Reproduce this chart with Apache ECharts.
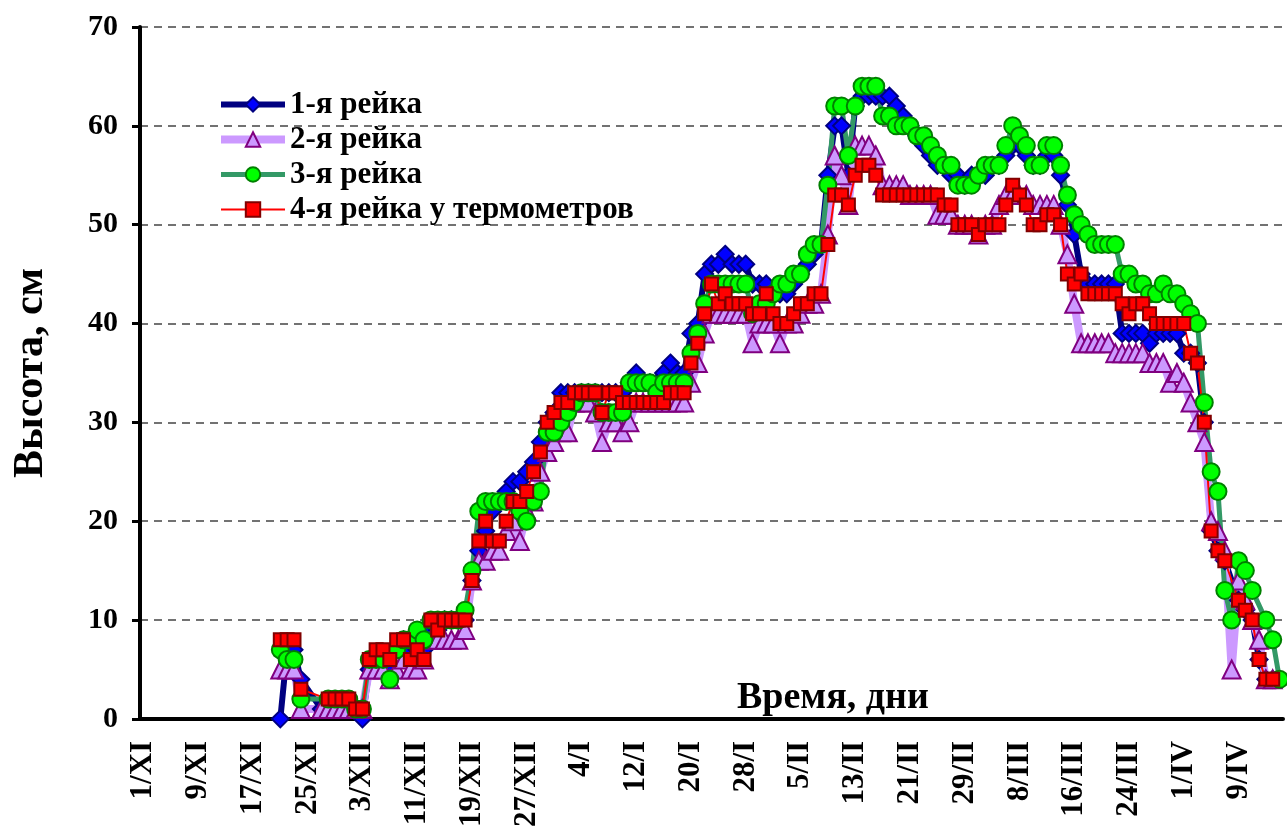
<!DOCTYPE html>
<html>
<head>
<meta charset="utf-8">
<script src="https://cdn.jsdelivr.net/npm/echarts@6/dist/echarts.min.js"></script>
<style>
html, body { margin: 0; padding: 0; background: #fff; }
#chart { width: 1287px; height: 830px; }
</style>
</head>
<body>
<div id="chart"></div>
<script>
// days from 1/XI, labels like "1/XI"
var monthNames = ['XI', 'XII', 'I', 'II', 'III', 'IV'];
var monthDays = [30, 31, 31, 29, 31, 15];
var days = [];
monthNames.forEach(function (m, i) {
    for (var d = 1; d <= monthDays[i]; d++) days.push(d + '/' + m);
});

var yTicks = [0, 10, 20, 30, 40, 50, 60, 70];

// series values start at day index 20 (21/XI)
var firstDay = 20;
var rail1 = [0, 7, 7, 4, null, null, 1, 1, 1, 1, 1, 1, 0,
    5, 6, 6, 5, 7, 8, 7, 7, 7, 9, 9, 10, 10, 10, 10,
    14, 17, 19, 21, 22, 23, 24, 24, 25, 26, 28, 30, 31, 33, 33, 33, 33, 33, 33, 33, 33, 33, 33,
    34, 35, 34, 34, 34, 35, 36, 35, 35, 39, 40, 45, 46, 46, 47, 46, 46, 46, 44, 44, 44, 43, 43, 43, 44, 45, 46, 47, 48,
    55, 60, 60, 55, 62, 63, 63, 63, 63, 63, 62, 61, 60, 59, 58, 57, 56, 56, 55, 55, 54, 55, 55, 55, 56, 56,
    57, 58, 58, 57, 56, 56, 57, 57, 55, 52, 49, 45, 44, 44, 44, 44, 44, 39, 39, 39, 39, 38, 39, 39, 39, 39, 37, 37, 36,
    30, 19, 17, 16, null, 12, 11, 10, 6, 4, 4, null];
var rail2 = [5, 5, 5, 1, null, null, 1, 1, 1, 1, 1, 1, 1,
    5, 5, 5, 4, 5, 6, 5, 5, 6, 8, 8, 8, 8, 8, 9,
    14, 16, 16, 17, 17, 19, 20, 18, 21, 22, 25, 27, 28, 29, 29, 32, 32, 32, 31, 28, 30, 30, 29,
    30, 32, 32, 32, 32, 32, 32, 32, 32, 34, 36, 39, 41, 41, 41, 41, 41, 41, 38, 40, 40, 40, 38, 40, 40, 41, 42, 42, 43,
    49, 57, 55, 52, 58, 58, 58, 57, 54, 54, 54, 54, 53, 53, 53, 53, 51, 51, 51, 50, 50, 50, 49, 50, 50, 52,
    53, 53, 53, 53, 52, 52, 52, 52, 50, 47, 42, 38, 38, 38, 38, 38, 37, 37, 37, 37, 37, 36, 36, 36, 34, 35, 34, 32, 30,
    28, 20, 19, 17, 5, 14, 12, 10, 8, 4, 4, null];
var rail3 = [7, 6, 6, 2, null, null, null, 2, 2, 2, 2, 1, 1,
    6, 6, 6, 4, 7, 8, 8, 9, 8, 10, 10, 10, 10, 10, 11,
    15, 21, 22, 22, 22, 22, 22, 21, 20, 22, 23, 29, 29, 30, 31, 32, 33, 33, 33, 31, 31, 31, 31,
    34, 34, 34, 34, 33, 34, 34, 34, 34, 37, 39, 42, 44, 44, 44, 44, 44, 44, 41, 42, 42, 43, 44, 44, 45, 45, 47, 48, 48,
    54, 62, 62, 57, 62, 64, 64, 64, 61, 61, 60, 60, 60, 59, 59, 58, 57, 56, 56, 54, 54, 54, 55, 56, 56, 56,
    58, 60, 59, 58, 56, 56, 58, 58, 56, 53, 51, 50, 49, 48, 48, 48, 48, 45, 45, 44, 44, 43, 43, 44, 43, 43, 42, 41, 40,
    32, 25, 23, 13, 10, 16, 15, 13, null, 10, 8, 4];
var rail4 = [8, 8, 8, 3, null, null, null, 2, 2, 2, 2, 1, 1,
    6, 7, 7, 6, 8, 8, 6, 7, 6, 10, 9, 10, 10, 10, 10,
    14, 18, 20, 18, 18, 20, 22, 22, 23, 25, 27, 30, 31, 32, 32, 33, 33, 33, 33, 31, 33, 33, 32,
    32, 32, 32, 32, 32, 32, 33, 33, 33, 36, 38, 41, 44, 42, 43, 42, 42, 42, 41, 41, 43, 41, 40, 40, 41, 42, 42, 43, 43,
    48, 53, 53, 52, 55, 56, 56, 55, 53, 53, 53, 53, 53, 53, 53, 53, 53, 52, 52, 50, 50, 50, 49, 50, 50, 50,
    52, 54, 53, 52, 50, 50, 51, 51, 50, 45, 44, 45, 43, 43, 43, 43, 43, 42, 41, 42, 42, 41, 40, 40, 40, 40, 40, 37, 36,
    30, 19, 17, 16, null, 12, 11, 10, 6, 4, 4, null];

function pad(a) {
    return new Array(firstDay).fill(null).concat(a);
}

var font = 'Liberation Serif';

function rail(name, data, lineColor, lineWidth, symbol, size, fill, border) {
    return {
        name: name,
        type: 'line',
        data: pad(data),
        connectNulls: true,
        symbol: symbol,
        symbolSize: size,
        showAllSymbol: true,
        lineStyle: { color: lineColor, width: lineWidth },
        itemStyle: { color: fill, borderColor: border, borderWidth: 2 }
    };
}

var myChart = echarts.init(document.getElementById('chart'));
var option = {
    animation: false,
    backgroundColor: '#fff',
    grid: { left: 140, right: 4, top: 27, bottom: 110 },
    legend: {
        orient: 'vertical',
        left: 212,
        top: 84,
        itemWidth: 64,
        itemHeight: 18,
        itemGap: 4,
        lineStyle: { width: 'inherit' },
        textStyle: { fontFamily: font, fontWeight: 'bold', fontSize: 31, color: '#000' }
    },
    graphic: [{
        type: 'text',
        left: 737,
        top: 679,
        style: { text: 'Время, дни', font: 'bold 38px "Liberation Serif"', fill: '#000' }
    }],
    xAxis: {
        type: 'category',
        data: days,
        boundaryGap: true,
        axisLine: { lineStyle: { color: '#000', width: 4 } },
        axisTick: { interval: 0, length: 8, lineStyle: { color: '#000', width: 2 } },
        axisLabel: {
            interval: 7, rotate: 90, margin: 22,
            fontFamily: font, fontWeight: 'bold', fontSize: 31, color: '#000'
        },
        splitLine: { show: false }
    },
    yAxis: {
        type: 'value',
        min: yTicks[0],
        max: yTicks[yTicks.length - 1],
        interval: 10,
        name: 'Высота, см',
        nameLocation: 'middle',
        nameGap: 88,
        nameTextStyle: { fontFamily: font, fontWeight: 'bold', fontSize: 42, color: '#000' },
        axisLine: { show: true, lineStyle: { color: '#000', width: 4 } },
        axisTick: { show: true, length: 8, lineStyle: { color: '#000', width: 3 } },
        axisLabel: { margin: 22, fontFamily: font, fontWeight: 'bold', fontSize: 30, color: '#000' },
        splitLine: { lineStyle: { color: '#444', width: 1.5, type: [8, 6] } }
    },
    series: [
        rail('1-я рейка', rail1, '#000080', 6, 'diamond', 17, '#0000FF', '#000080'),
        rail('2-я рейка', rail2, '#CC99FF', 8, 'triangle', 18, '#CC99FF', '#800080'),
        rail('3-я рейка', rail3, '#339966', 5, 'circle', 17, '#00FF00', '#008000'),
        rail('4-я рейка у термометров', rail4, '#FF0000', 2, 'rect', 13, '#FF0000', '#800000')
    ]
};
myChart.setOption(option);
</script>
</body>
</html>
